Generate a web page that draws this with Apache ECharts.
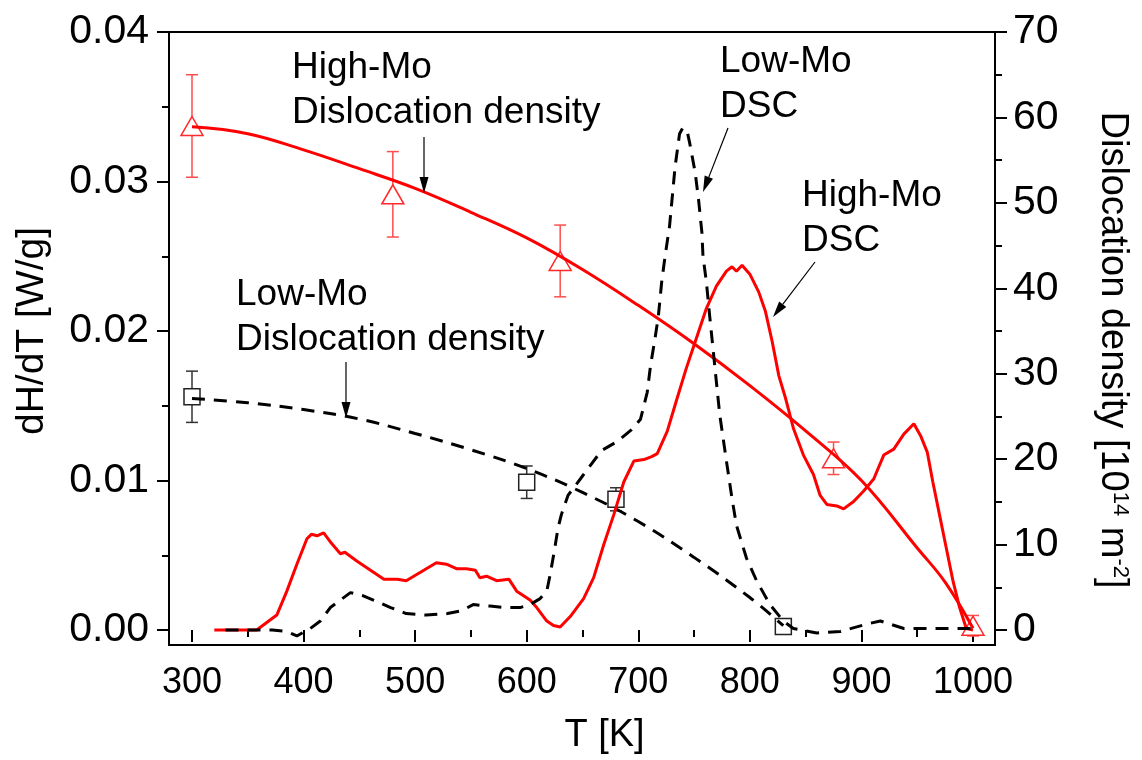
<!DOCTYPE html>
<html><head><meta charset="utf-8">
<script src="https://cdn.jsdelivr.net/npm/echarts@6/dist/echarts.min.js"></script>
<style>html,body{margin:0;padding:0;background:#fff}#c{width:1142px;height:760px}</style>
</head><body><div id="c"></div><script>
// ---- data ----
const xTickValues = [300, 400, 500, 600, 700, 800, 900, 1000];
const leftTickValues = [0.00, 0.01, 0.02, 0.03, 0.04];
const rightTickValues = [0, 10, 20, 30, 40, 50, 60, 70];

// High-Mo dislocation density [T, value, error] (right axis)
const highMoDD = [[300, 59.0, 6.0], [480, 51.0, 5.0], [630, 43.2, 4.2], [875, 20.1, 1.9], [1000, 0.5, 1.2]];
// Low-Mo dislocation density [T, value, error] (right axis)
const lowMoDD = [[300, 27.3, 3.0], [600, 17.3, 1.9], [680, 15.3, 1.35], [830, 0.4, 0.3]];
// Fitted curves (right axis)
const highMoFit = [[300,58.9],[350,58.1],[400,56.2],[450,54.0],[500,51.7],[550,48.9],[600,45.9],[650,42.2],[700,38.0],[750,33.5],[800,28.6],[850,23.3],[900,17.5],[950,9.6],[975,5.6],[1000,0.2]];
const lowMoFit = [[300,27.1],[350,26.6],[400,25.8],[450,24.7],[500,23.0],[550,21.1],[600,18.9],[650,16.1],[700,12.7],[750,8.5],[800,3.8],[830,0.5]];
// DSC curves (left axis)
const highMoDSC = [[320,0],[358,0],[367,0.0005],[376,0.001],[385,0.0026],[394,0.0044],[403,0.0061],[407,0.0064],[412,0.0063],[418,0.0065],[425,0.0058],[433,0.0051],[437,0.0052],[448,0.0046],[460,0.0040],[472,0.0034],[484,0.0034],[492,0.0033],[501,0.0037],[510,0.0041],[519,0.0045],[528,0.0044],[537,0.0041],[546,0.0041],[554,0.0040],[558,0.0035],[564,0.0036],[573,0.0033],[584,0.0034],[591,0.0026],[603,0.0020],[609,0.0015],[618,0.0006],[624,0.0003],[630,0.0002],[639,0.0009],[651,0.0021],[660,0.0035],[669,0.0057],[678,0.0077],[687,0.0099],[696,0.0113],[705,0.0114],[712,0.0116],[717,0.0118],[726,0.0133],[734,0.0153],[743,0.0175],[752,0.0195],[761,0.0215],[770,0.0230],[779,0.0240],[784,0.0243],[788,0.0240],[793,0.0244],[800,0.0238],[808,0.0226],[814,0.0213],[820,0.0193],[826,0.0170],[832,0.0155],[839,0.0135],[848,0.0117],[857,0.0104],[863,0.0090],[869,0.0084],[878,0.0083],[884,0.0081],[893,0.0086],[902,0.0093],[911,0.0101],[920,0.0117],[929,0.0121],[938,0.0131],[947,0.0138],[953,0.0130],[959,0.0119],[964,0.0099],[970,0.0077],[976,0.0055],[982,0.0033],[988,0.0015],[994,0.0001],[1000,0]];
const lowMoDSC = [[330,0],[372,0],[385,-0.0001],[394,-0.0004],[406,0.0001],[415,0.0006],[424,0.0015],[433,0.0020],[442,0.0025],[453,0.0023],[469,0.0018],[478,0.0015],[492,0.0011],[510,0.0010],[529,0.0011],[542,0.0013],[552,0.0017],[567,0.0016],[579,0.0015],[594,0.0015],[603,0.0017],[612,0.0021],[618,0.0026],[621,0.0037],[625,0.0054],[628,0.0068],[631,0.0077],[637,0.0090],[650,0.0103],[667,0.0120],[681,0.0126],[694,0.0134],[702,0.0141],[708,0.0159],[711,0.0177],[715,0.0195],[718,0.0210],[721,0.0233],[724,0.0250],[728,0.0270],[733,0.0310],[737,0.0332],[740,0.0336],[744,0.0333],[746,0.0326],[751,0.0306],[754,0.0288],[757,0.0266],[758,0.0250],[761,0.0233],[764,0.0210],[767,0.0188],[770,0.0166],[773,0.0144],[779,0.0113],[784,0.0088],[788,0.0070],[797,0.0048],[806,0.0033],[818,0.0017],[830,0.0006],[839,0.0001],[860,-0.0002],[881,-0.0001],[905,0.0004],[917,0.0006],[938,0.0001],[956,0.0001],[1000,0.0001]];

// annotation texts
const annotations = [
  { text: 'High-Mo\nDislocation density', x: 292, y: 45, from: [424, 137], to: [424, 193] },
  { text: 'Low-Mo\nDSC', x: 720, y: 39, from: [728, 128], to: [703, 192] },
  { text: 'High-Mo\nDSC', x: 802, y: 173, from: [815, 262], to: [773, 317] },
  { text: 'Low-Mo\nDislocation density', x: 236, y: 272, from: [346, 362], to: [346, 418] }
];

const FONT = 'Liberation Sans, Arial, sans-serif';
const chart = echarts.init(document.getElementById('c'), null, { renderer: 'canvas' });

function errRender(color) {
  return function (params, api) {
    const x = api.value(0), y = api.value(1), e = api.value(2);
    const t = api.coord([x, y + e]), b = api.coord([x, y - e]);
    const hw = 6, st = { stroke: color, lineWidth: 1.5 };
    return { type: 'group', children: [
      { type: 'line', shape: { x1: t[0], y1: t[1], x2: b[0], y2: b[1] }, style: st },
      { type: 'line', shape: { x1: t[0] - hw, y1: t[1], x2: t[0] + hw, y2: t[1] }, style: st },
      { type: 'line', shape: { x1: b[0] - hw, y1: b[1], x2: b[0] + hw, y2: b[1] }, style: st }
    ]};
  };
}

const graphics = [];
annotations.forEach(a => {
  graphics.push({ type: 'text', left: a.x, top: a.y, z: 100,
    style: { text: a.text, font: '37px ' + FONT, fill: '#000', lineHeight: 45 } });
  const dx = a.to[0] - a.from[0], dy = a.to[1] - a.from[1];
  const L = Math.hypot(dx, dy), ux = dx / L, uy = dy / L;
  const hl = 16, hw = 4.5;
  const bx = a.to[0] - ux * hl, by = a.to[1] - uy * hl;
  graphics.push({ type: 'line', z: 100, shape: { x1: a.from[0], y1: a.from[1], x2: bx, y2: by }, style: { stroke: '#000', lineWidth: 1.2 } });
  graphics.push({ type: 'polygon', z: 100, shape: { points: [a.to, [bx - uy * hw, by + ux * hw], [bx + uy * hw, by - ux * hw]] }, style: { fill: '#000' } });
});

const yLabelStyle = { fontFamily: FONT, fontSize: 41, color: '#000' };
const xLabelStyle = { fontFamily: FONT, fontSize: 36, color: '#000' };

const option = {
  animation: false,
  backgroundColor: '#fff',
  grid: [
    { left: 169, right: 147, top: 32, bottom: 115, show: true, borderColor: '#000', borderWidth: 2, backgroundColor: 'transparent' },
    { left: 192, right: 169, top: 32, bottom: 128 }
  ],
  xAxis: [
    { gridIndex: 0, type: 'value', show: false, min: 0, max: 1 },
    { gridIndex: 1, type: 'value', min: xTickValues[0], max: xTickValues[xTickValues.length - 1], interval: 100,
      position: 'bottom', offset: 13,
      axisLine: { show: false },
      axisTick: { show: true, inside: false, length: 12, lineStyle: { color: '#000', width: 2 } },
      minorTick: { show: true, splitNumber: 2, length: 7, lineStyle: { color: '#000', width: 2 } },
      splitLine: { show: false },
      axisLabel: Object.assign({ margin: 22, formatter: v => String(v) }, xLabelStyle),
      name: 'T [K]', nameLocation: 'middle', nameGap: 74,
      nameTextStyle: { fontFamily: FONT, fontSize: 38, color: '#000', padding: [0, 0, 0, 44] }
    }
  ],
  yAxis: [
    { gridIndex: 0, type: 'value', show: false, min: 0, max: 1 },
    { gridIndex: 1, type: 'value', position: 'left', offset: 23,
      min: leftTickValues[0], max: leftTickValues[leftTickValues.length - 1], interval: 0.01,
      axisLine: { show: false },
      axisTick: { show: true, length: 12, lineStyle: { color: '#000', width: 2 } },
      minorTick: { show: true, splitNumber: 2, length: 7, lineStyle: { color: '#000', width: 2 } },
      splitLine: { show: false },
      axisLabel: Object.assign({ margin: 20, formatter: v => v.toFixed(2) }, yLabelStyle),
      name: 'dH/dT [W/g]', nameLocation: 'middle', nameRotate: 90, nameGap: 117,
      nameTextStyle: { fontFamily: FONT, fontSize: 39, color: '#000' }
    },
    { gridIndex: 1, type: 'value', position: 'right', offset: 22,
      min: rightTickValues[0], max: rightTickValues[rightTickValues.length - 1], interval: 10,
      axisLine: { show: false },
      axisTick: { show: true, length: 12, lineStyle: { color: '#000', width: 2 } },
      minorTick: { show: true, splitNumber: 2, length: 7, lineStyle: { color: '#000', width: 2 } },
      splitLine: { show: false },
      axisLabel: Object.assign({ margin: 18 }, yLabelStyle),
      name: '{a|Dislocation density [10}{s|14}{a| m}{s|-2}{a|]}', nameLocation: 'middle', nameRotate: -90, nameGap: 98,
      nameTextStyle: { fontFamily: FONT, fontSize: 38, color: '#000', padding: [0, 0, 0, 38],
        rich: { a: { fontFamily: FONT, fontSize: 38, color: '#000' }, s: { fontFamily: FONT, fontSize: 22, color: '#000', verticalAlign: 'top' } } }
    }
  ],
  series: [
    { type: 'custom', name: 'High-Mo err', xAxisIndex: 1, yAxisIndex: 2, data: highMoDD, renderItem: errRender('#ff4d4d'), z: 2, clip: false, encode: { x: 0, y: 1 } },
    { type: 'custom', name: 'Low-Mo err', xAxisIndex: 1, yAxisIndex: 2, data: lowMoDD, renderItem: errRender('#333'), z: 2, clip: false, encode: { x: 0, y: 1 } },
    { type: 'scatter', name: 'High-Mo DD', xAxisIndex: 1, yAxisIndex: 2, data: highMoDD.map(d => [d[0], d[1]]),
      symbol: 'triangle', symbolSize: [22, 19], itemStyle: { color: '#fff', borderColor: '#ff2a2a', borderWidth: 1.5, opacity: 1 }, z: 3, clip: false },
    { type: 'scatter', name: 'Low-Mo DD', xAxisIndex: 1, yAxisIndex: 2, data: lowMoDD.map(d => [d[0], d[1]]),
      symbol: 'rect', symbolSize: 16, itemStyle: { color: '#fff', borderColor: '#222', borderWidth: 1.5, opacity: 1 }, z: 3, clip: false },
    { type: 'line', name: 'High-Mo fit', xAxisIndex: 1, yAxisIndex: 2, data: highMoFit, smooth: 0.4, showSymbol: false, clip: false,
      lineStyle: { color: '#ff0000', width: 3 }, z: 4 },
    { type: 'line', name: 'Low-Mo fit', xAxisIndex: 1, yAxisIndex: 2, data: lowMoFit, smooth: 0.4, showSymbol: false, clip: false,
      lineStyle: { color: '#000', width: 3, type: [13, 9] }, z: 4 },
    { type: 'line', name: 'High-Mo DSC', xAxisIndex: 1, yAxisIndex: 1, data: highMoDSC, showSymbol: false, clip: false,
      lineStyle: { color: '#ff0000', width: 3 }, z: 4 },
    { type: 'line', name: 'Low-Mo DSC', xAxisIndex: 1, yAxisIndex: 1, data: lowMoDSC, showSymbol: false, clip: false,
      lineStyle: { color: '#000', width: 3, type: [13, 9] }, z: 4 }
  ],
  graphic: graphics
};
chart.setOption(option);
</script></body></html>
